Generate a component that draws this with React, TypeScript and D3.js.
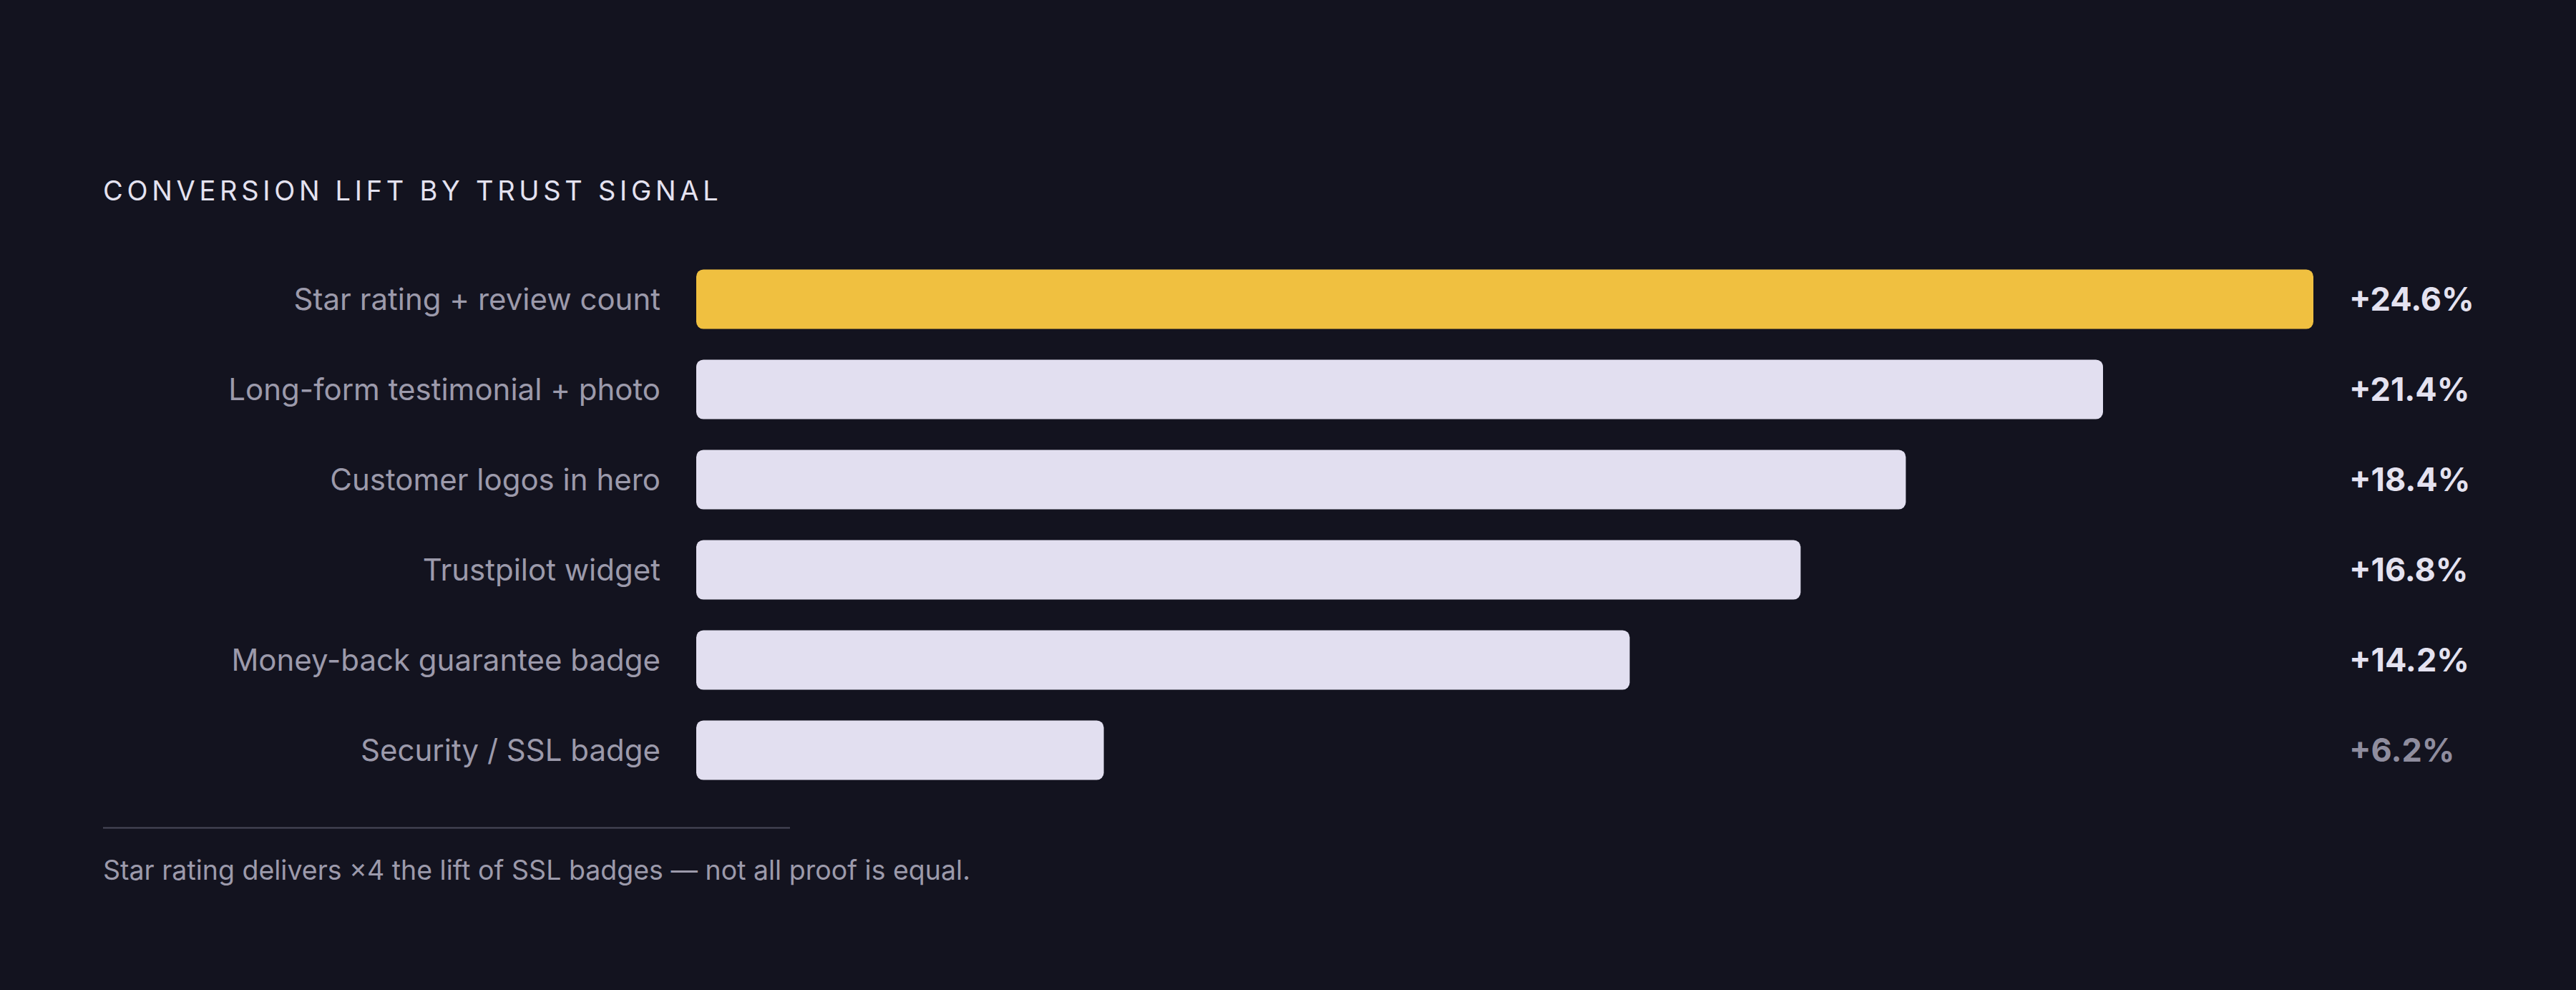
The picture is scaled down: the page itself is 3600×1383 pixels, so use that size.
import React, { useEffect, useRef } from "react";
import * as d3 from "d3";

const signals = [
  "Star rating + review count",
  "Long-form testimonial + photo",
  "Customer logos in hero",
  "Trustpilot widget",
  "Money-back guarantee badge",
  "Security / SSL badge",
];
const lifts = [24.6, 21.4, 18.4, 16.8, 14.2, 6.2];

const title = "CONVERSION LIFT BY TRUST SIGNAL";
const footnote = "Star rating delivers ×4 the lift of SSL badges — not all proof is equal.";

const App: React.FC = () => {
  const chartRef = useRef<SVGSVGElement | null>(null);

  useEffect(() => {
    document.body.style.margin = "0";
    document.body.style.background = "#13131f";
    drawChart();
  }, []);

  const drawChart = () => {
    const svg = d3.select(chartRef.current);
    svg.selectAll("*").remove();

    const width = 3600;
    const height = 1383;
    const font = "Inter, 'Noto Sans', sans-serif";

    svg
      .append("rect")
      .attr("width", width)
      .attr("height", height)
      .attr("fill", "#13131f");

    const x = d3.scaleLinear().domain([0, d3.max(lifts) || 0]).range([973, 3233]);

    const y = d3
      .scaleBand()
      .domain(signals)
      .range([355, 1111])
      .paddingInner(0.34)
      .paddingOuter(0.17);

    svg
      .append("text")
      .attr("x", 144)
      .attr("y", 280)
      .attr("font-family", font)
      .attr("font-size", 38)
      .attr("letter-spacing", "0.15em")
      .attr("fill", "#e4e2f0")
      .text(title);

    const rows = svg
      .selectAll(".row")
      .data(signals)
      .enter()
      .append("g")
      .attr("class", "row");

    rows
      .append("rect")
      .attr("x", x(0))
      .attr("y", (d) => y(d) || 0)
      .attr("width", (d, i) => x(lifts[i]) - x(0))
      .attr("height", y.bandwidth())
      .attr("rx", 10)
      .attr("fill", (d, i) => (i === 0 ? "#f0c040" : "#e2dff0"));

    rows
      .append("text")
      .attr("x", 923)
      .attr("y", (d) => (y(d) || 0) + y.bandwidth() / 2)
      .attr("dy", "0.35em")
      .attr("text-anchor", "end")
      .attr("font-family", font)
      .attr("font-size", 42)
      .attr("fill", "#9c9aab")
      .text((d) => d);

    rows
      .append("text")
      .attr("x", 3283)
      .attr("y", (d) => (y(d) || 0) + y.bandwidth() / 2)
      .attr("dy", "0.35em")
      .attr("font-family", font)
      .attr("font-size", 45)
      .attr("font-weight", 700)
      .attr("fill", (d, i) => (i === lifts.length - 1 ? "#8f8d9e" : "#e4e2f0"))
      .text((d, i) => `+${lifts[i].toFixed(1)}%`);

    svg
      .append("line")
      .attr("x1", 144)
      .attr("x2", 1104)
      .attr("y1", 1156.5)
      .attr("y2", 1156.5)
      .attr("stroke", "#4a4a5a")
      .attr("stroke-width", 2);

    svg
      .append("text")
      .attr("x", 144)
      .attr("y", 1229)
      .attr("font-family", font)
      .attr("font-size", 37.5)
      .attr("fill", "#9c9aab")
      .text(footnote);
  };

  return <svg ref={chartRef} width="3600" height="1383" style={{ display: "block" }}></svg>;
};

export default App;
